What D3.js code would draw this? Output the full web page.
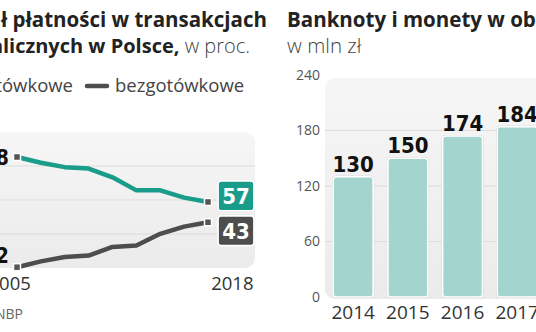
<!DOCTYPE html>
<html>
<head>
<meta charset="utf-8">
<script src="https://cdn.jsdelivr.net/npm/d3@7"></script>
<style>
  html, body { margin: 0; padding: 0; background: #fff; }
  svg { display: block; }
</style>
</head>
<body>
<svg id="chart" width="536" height="332"></svg>
<script>
// Udział płatności (line chart)
const lineYears = ["2005", "2009", "2011", "2013", "2014", "2015", "2016", "2017", "2018"];
const cashShare = [88, 84, 81, 80, 74, 65, 65, 60, 57];
const cashlessShare = [12, 16, 19, 20, 26, 27, 35, 40, 43];
const seriesNames = ["gotówkowe", "bezgotówkowe"];

// Banknoty i monety w obiegu (bar chart)
const barYears = ["2014", "2015", "2016", "2017"];
const banknotes = [130, 150, 174, 184];
const barTicks = [0, 60, 120, 180, 240];

const TEAL = "#1a9c8b";
const DARK = "#4d4d4d";
const BAR = "#a4d4ce";
const BOLD = "'Open Sans', 'DejaVu Sans', sans-serif";
const LIGHT = "'Open Sans', 'DejaVu Sans', sans-serif";
const NUM = "'DejaVu Sans Condensed', 'DejaVu Sans', sans-serif";

const svg = d3.select("#chart");
const defs = svg.append("defs");
const grad = defs.append("linearGradient").attr("id", "panelBg")
  .attr("x1", 0).attr("y1", 0).attr("x2", 0).attr("y2", 1);
grad.append("stop").attr("offset", "0%").attr("stop-color", "#f6f6f6");
grad.append("stop").attr("offset", "100%").attr("stop-color", "#ebebeb");

/* ---------------- left panel: line chart ---------------- */
const L = { left: -20, right: 255, top: 132, bottom: 268 };
const xL = d3.scalePoint().domain(lineYears).range([17, 208]);
const yL = d3.scaleLinear().domain([0, 100]).range([284.6, 139.6]);

const left = svg.append("g");

left.append("text")
  .attr("x", 267).attr("y", 27).attr("text-anchor", "end")
  .style("font-family", BOLD).style("font-weight", 700).style("font-size", "20.5px").attr("fill", "#222")
  .text("Udział płatności w transakcjach");
const t2 = left.append("text")
  .attr("x", 250).attr("y", 53).attr("text-anchor", "end")
  .style("font-size", "20px").attr("fill", "#222");
t2.append("tspan").style("font-family", BOLD).style("font-weight", 700).text("detalicznych w Polsce,");
t2.append("tspan").style("font-family", LIGHT).style("font-weight", 300).attr("fill", "#444").text(" w proc.");

// legend
const legend = left.append("g").style("font-family", LIGHT).style("font-size", "18.5px").attr("fill", "#444");
legend.append("line").attr("x1", -58).attr("x2", -35).attr("y1", 86).attr("y2", 86)
  .attr("stroke", TEAL).attr("stroke-width", 4.5).attr("stroke-linecap", "round");
legend.append("text").attr("x", 73).attr("y", 92).attr("text-anchor", "end").text(seriesNames[0]);
legend.append("line").attr("x1", 87).attr("x2", 107).attr("y1", 86).attr("y2", 86)
  .attr("stroke", DARK).attr("stroke-width", 4.5).attr("stroke-linecap", "round");
legend.append("text").attr("x", 115).attr("y", 92).text(seriesNames[1]);

// plot background + quarter gridlines
left.append("rect")
  .attr("x", L.left).attr("y", L.top).attr("width", L.right - L.left).attr("height", L.bottom - L.top)
  .attr("rx", 10).attr("fill", "url(#panelBg)");
left.append("g").selectAll("line").data([1, 2, 3]).join("line")
  .attr("x1", L.left).attr("x2", L.right)
  .attr("y1", d => L.top + d * (L.bottom - L.top) / 4)
  .attr("y2", d => L.top + d * (L.bottom - L.top) / 4)
  .attr("stroke", "#dcdcdc").attr("stroke-width", 1);

const lineGen = d3.line().x((d, i) => xL(lineYears[i])).y(d => yL(d));
left.append("path").datum(cashShare).attr("d", lineGen)
  .attr("fill", "none").attr("stroke", TEAL).attr("stroke-width", 4.5).attr("stroke-linejoin", "round");
left.append("path").datum(cashlessShare).attr("d", lineGen)
  .attr("fill", "none").attr("stroke", DARK).attr("stroke-width", 4.5).attr("stroke-linejoin", "round");

// end markers
const last = lineYears.length - 1;
const markers = [
  [0, cashShare[0]], [last, cashShare[last]],
  [0, cashlessShare[0]], [last, cashlessShare[last]]
];
left.append("g").selectAll("rect").data(markers).join("rect")
  .attr("x", d => xL(lineYears[d[0]]) - 3.5).attr("y", d => yL(d[1]) - 3.5)
  .attr("width", 7).attr("height", 7)
  .attr("fill", "#555").attr("stroke", "#fff").attr("stroke-width", 1.5);

// start values
left.append("text").attr("x", 9).attr("y", 165).attr("text-anchor", "end")
  .style("font-family", NUM).style("font-weight", 700).style("font-size", "21px").attr("fill", "#111")
  .text(cashShare[0]);
left.append("text").attr("x", 9).attr("y", 263).attr("text-anchor", "end")
  .style("font-family", NUM).style("font-weight", 700).style("font-size", "21px").attr("fill", "#111")
  .text(cashlessShare[0]);

// end value boxes
const boxes = [
  { v: cashShare[last], fill: TEAL, cy: yL(cashShare[last]) - 6 },
  { v: cashlessShare[last], fill: DARK, cy: yL(cashlessShare[last]) + 8.5 }
];
const bx = 218, bw = 36, bh = 30;
const bg = left.append("g").selectAll("g").data(boxes).join("g");
bg.append("rect").attr("x", bx - 1).attr("y", d => d.cy - bh / 2 - 1)
  .attr("width", bw + 2).attr("height", bh + 2).attr("rx", 4).attr("fill", "#c4c4c4");
bg.append("rect").attr("x", bx).attr("y", d => d.cy - bh / 2)
  .attr("width", bw).attr("height", bh).attr("rx", 3)
  .attr("fill", d => d.fill).attr("stroke", "#fff").attr("stroke-width", 1.8);
bg.append("text").attr("x", bx + bw / 2).attr("y", d => d.cy + 8).attr("text-anchor", "middle")
  .style("font-family", NUM).style("font-weight", 700).style("font-size", "22px").attr("fill", "#fff")
  .text(d => d.v);

// x labels (first and last year only)
const xAxisL = left.append("g").attr("transform", `translate(0,${L.bottom})`)
  .call(d3.axisBottom(xL).tickValues([lineYears[0], lineYears[last]]).tickSize(0).tickPadding(0));
xAxisL.select(".domain").remove();
xAxisL.selectAll("text")
  .style("font-family", LIGHT).style("font-size", "18.5px").attr("fill", "#333")
  .attr("dy", 0).attr("y", 22)
  .attr("text-anchor", (d, i) => i === 0 ? "start" : "end")
  .attr("x", (d, i) => i === 0 ? L.left + 8 - xL(lineYears[0]) : 253 - xL(lineYears[last]));

left.append("text").attr("x", 23).attr("y", 319).attr("text-anchor", "end")
  .style("font-family", LIGHT).style("font-size", "14px").attr("fill", "#666")
  .text("Źródło: NBP");

/* ---------------- right panel: bar chart ---------------- */
const R = { left: 325, right: 560, top: 78, bottom: 299 };
const yR = d3.scaleLinear().domain([0, 240]).range([297, 75]);
const xR = d3.scaleBand().domain(barYears).range([325, 545.4]).paddingInner(0.27).paddingOuter(0.15);

const right = svg.append("g");
right.append("text").attr("x", 287).attr("y", 27)
  .style("font-family", BOLD).style("font-weight", 700).style("font-size", "20.5px").attr("fill", "#222")
  .text("Banknoty i monety w obiegu");
right.append("text").attr("x", 287).attr("y", 53)
  .style("font-family", LIGHT).style("font-weight", 300).style("font-size", "20.5px").attr("fill", "#444")
  .text("w mln zł");

right.append("rect")
  .attr("x", R.left).attr("y", R.top).attr("width", R.right - R.left).attr("height", R.bottom - R.top)
  .attr("rx", 10).attr("fill", "url(#panelBg)");

const yAxisR = right.append("g").attr("transform", `translate(${R.left},0)`)
  .call(d3.axisLeft(yR).tickValues(barTicks).tickSize(0).tickPadding(5));
yAxisR.select(".domain").remove();
yAxisR.selectAll("text").style("font-family", LIGHT).style("font-size", "14px").attr("fill", "#555");

right.append("g").selectAll("line").data(barTicks.slice(1, -1)).join("line")
  .attr("x1", R.left).attr("x2", R.right).attr("y1", d => yR(d)).attr("y2", d => yR(d))
  .attr("stroke", "#dcdcdc").attr("stroke-width", 1);

const bars = right.append("g").selectAll("g").data(banknotes).join("g");
bars.append("rect")
  .attr("x", (d, i) => xR(barYears[i]) - 1).attr("y", d => yR(d) - 1)
  .attr("width", xR.bandwidth() + 2).attr("height", d => yR(0) - yR(d) + 2)
  .attr("rx", 4).attr("fill", "#c6c6c6");
bars.append("rect")
  .attr("x", (d, i) => xR(barYears[i])).attr("y", d => yR(d))
  .attr("width", xR.bandwidth()).attr("height", d => yR(0) - yR(d))
  .attr("rx", 3).attr("fill", BAR).attr("stroke", "#fff").attr("stroke-width", 1.6);
bars.append("text")
  .attr("x", (d, i) => xR(barYears[i]) + xR.bandwidth() / 2).attr("y", d => yR(d) - 5)
  .attr("text-anchor", "middle")
  .style("font-family", NUM).style("font-weight", 700).style("font-size", "22px").attr("fill", "#111")
  .text(d => d);

const xAxisR = right.append("g").attr("transform", `translate(0,${yR(0)})`)
  .call(d3.axisBottom(xR).tickSize(0).tickPadding(0));
xAxisR.select(".domain").remove();
xAxisR.selectAll("text").style("font-family", LIGHT).style("font-size", "19px").attr("fill", "#333")
  .attr("dy", 0).attr("y", 22);
</script>
</body>
</html>
